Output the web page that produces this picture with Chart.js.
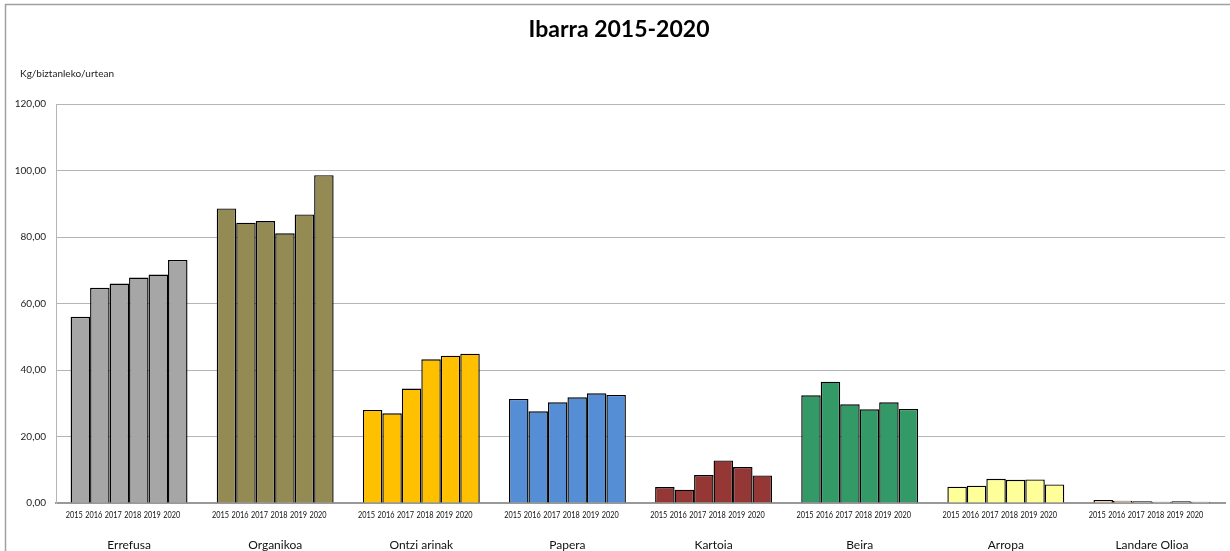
<!DOCTYPE html>
<html>
<head>
<meta charset="utf-8">
<script src="https://cdn.jsdelivr.net/npm/chart.js@4"></script>
<style>
html,body{margin:0;padding:0;background:#fff;}
#wrap{width:1230px;height:551px;position:relative;}
</style>
</head>
<body>
<div id="wrap"><canvas id="c" width="1230" height="551"></canvas></div>
<script>
const categories = ['Errefusa','Organikoa','Ontzi arinak','Papera','Kartoia','Beira','Arropa','Landare Olioa'];
const years = ['2015','2016','2017','2018','2019','2020'];
const v2015 = [56.0, 88.6, 28.0, 31.3, 4.8, 32.4, 4.9, 0.9];
const v2016 = [64.7, 84.3, 27.0, 27.6, 4.0, 36.5, 5.2, 0.7];
const v2017 = [66.0, 84.8, 34.4, 30.3, 8.4, 29.7, 7.3, 0.5];
const v2018 = [67.8, 81.1, 43.2, 31.8, 12.8, 28.2, 7.0, 0.4];
const v2019 = [68.7, 86.8, 44.3, 33.0, 10.8, 30.3, 7.1, 0.5];
const v2020 = [73.1, 98.6, 44.9, 32.5, 8.3, 28.3, 5.6, 0.4];
const yMin = 0, yMax = 120, yStep = 20;
const titleText = 'Ibarra 2015-2020';
const yAxisLabel = 'Kg/biztanleko/urtean';
const catColors = ['#A6A6A6','#948A54','#FFC000','#558ED5','#953735','#339966','#FFFF99','#FCD5B5'];

const series = [v2015, v2016, v2017, v2018, v2019, v2020];
const FONT = 'Lato, "Open Sans", sans-serif';

const decor = {
  id: 'decor',
  beforeDraw(chart) {
    const ctx = chart.ctx;
    ctx.save();
    ctx.fillStyle = '#fff';
    ctx.fillRect(0, 0, chart.width, chart.height);
    ctx.strokeStyle = '#A0A0A0';
    ctx.lineWidth = 1.5;
    ctx.strokeRect(5.5, 4.5, chart.width + 10, chart.height + 10);
    ctx.restore();
  },
  afterDraw(chart) {
    const ctx = chart.ctx;
    ctx.save();
    ctx.fillStyle = '#000';
    ctx.textAlign = 'center';
    ctx.textBaseline = 'middle';
    ctx.font = 'bold 23px ' + FONT;
    ctx.fillText(titleText, 619, 30);
    ctx.font = '10px ' + FONT;
    ctx.textAlign = 'left';
    ctx.fillStyle = '#222';
    ctx.fillText(yAxisLabel, 20, 74);
    ctx.font = '9.5px ' + FONT;
    ctx.textAlign = 'center';
    ctx.fillStyle = '#111';
    chart.data.datasets.forEach((ds, i) => {
      const meta = chart.getDatasetMeta(i);
      meta.data.forEach((el) => {
        ctx.fillText(years[i], el.x - 6, 515, 17);
      });
    });
    ctx.restore();
  }
};

new Chart(document.getElementById('c'), {
  type: 'bar',
  data: {
    labels: categories,
    datasets: series.map((vals, i) => ({
      label: years[i],
      data: vals,
      backgroundColor: catColors,
      borderColor: '#000',
      borderWidth: 1.4,
      borderSkipped: 'bottom',
      categoryPercentage: 0.8,
      barPercentage: 1.0
    }))
  },
  options: {
    responsive: false,
    animation: false,
    devicePixelRatio: 1,
    layout: { padding: { top: 104, right: 5, left: 0, bottom: 0 } },
    plugins: {
      legend: { display: false },
      title: { display: false },
      tooltip: { enabled: false }
    },
    scales: {
      x: {
        grid: { display: false, drawTicks: false },
        border: { display: true, color: '#999', width: 2 },
        ticks: {
          color: '#111',
          font: { family: FONT, size: 12 },
          padding: 35,
          maxRotation: 0,
          autoSkip: false
        },
        afterFit(s) { s.height = 48; }
      },
      y: {
        min: yMin,
        max: yMax,
        grid: { color: '#B5B5B5', lineWidth: 1, drawTicks: false },
        border: { display: true, color: '#B5B5B5', width: 1 },
        ticks: {
          stepSize: yStep,
          color: '#222',
          font: { family: FONT, size: 10 },
          padding: 10,
          callback: (v) => v.toFixed(2).replace('.', ',')
        },
        afterFit(s) { s.width = 56; }
      }
    }
  },
  plugins: [decor]
});
</script>
</body>
</html>
